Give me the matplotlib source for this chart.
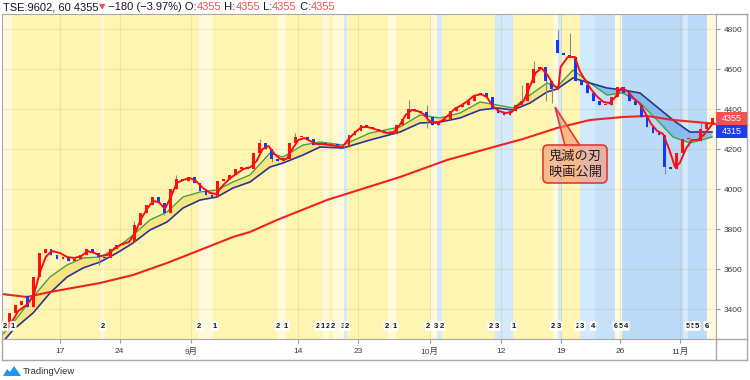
import numpy as np
import matplotlib
matplotlib.use('Agg')
import matplotlib.pyplot as plt
from matplotlib.patches import FancyBboxPatch, Polygon, Rectangle
from matplotlib.lines import Line2D
from matplotlib.transforms import Affine2D, blended_transform_factory

plt.rcParams['font.family'] = ['Liberation Sans', 'Noto Sans CJK JP', 'DejaVu Sans']

# x = trading day counted from 2020-08-11 (day 0), two bars per day
closes = [3320, 3380, 3420, 3440, 3410, 3560, 3680, 3700, 3670, 3650,
          3660, 3640, 3650, 3670, 3700, 3680, 3660, 3655, 3700, 3720,
          3730, 3735, 3820, 3880, 3920, 3960, 3930, 3880, 4000, 4050,
          4040, 4060, 4030, 3990, 3970, 3960, 4040, 4050, 4070, 4100,
          4110, 4100, 4180, 4230, 4200, 4150, 4140, 4150, 4230, 4260,
          4260, 4250, 4220, 4230, 4220, 4225, 4205, 4210, 4270, 4290,
          4320, 4310, 4300, 4290, 4280, 4275, 4320, 4350, 4400, 4390,
          4385, 4360, 4320, 4340, 4350, 4390, 4410, 4420, 4440, 4470,
          4480, 4460, 4400, 4380, 4370, 4390, 4420, 4440, 4530, 4600,
          4610, 4540, 4500, 4680, 4670, 4660, 4540, 4520, 4480, 4440,
          4420, 4420, 4460, 4510, 4480, 4440, 4420, 4360, 4310, 4280,
          4270, 4110, 4100, 4180, 4250, 4250, 4240, 4300, 4330, 4355]
gap_opens = {4: 3465, 93: 4745}
wick_high = {22: 3840, 29: 4070, 43: 4250, 49: 4280, 68: 4445, 71: 4420, 87: 4520,
             89: 4640, 93: 4795, 95: 4780, 117: 4330}
wick_low = {16: 3620, 27: 3870, 45: 4135, 71: 4305, 91: 4440, 92: 4430, 111: 4075,
            115: 4215}

ribbon_days = [-0.86, 0.06, 1.74, 3.16, 4.59, 5.93, 7.36, 8.78, 10.13, 11.55,
               12.98, 14.32, 15.75, 17.17, 18.51, 19.94, 21.62, 22.71, 24.39, 25.81,
               27.74, 30.01, 32.53, 34.2, 35.88, 37.56, 39.24, 40.66, 42.0, 43.43,
               44.86, 45.7, 47.04, 48.46, 49.89, 51.23, 52.66, 54.09, 55.43, 56.85,
               58.7]
green_ma = [3270, 3330, 3460, 3560, 3620, 3655, 3660, 3705, 3770, 3845,
            3885, 3960, 3985, 3995, 4035, 4070, 4180, 4160, 4220, 4235,
            4220, 4280, 4310, 4370, 4355, 4380, 4435, 4420, 4405, 4470,
            4530, 4510, 4595, 4530, 4470, 4480, 4430, 4345, 4260, 4230,
            4260]
navy_ma = [3230, 3295, 3380, 3480, 3560, 3605, 3635, 3680, 3730, 3795,
           3835, 3905, 3945, 3960, 4005, 4035, 4110, 4130, 4170, 4210,
           4205, 4245, 4285, 4330, 4335, 4355, 4395, 4405, 4395, 4430,
           4485, 4500, 4555, 4530, 4505, 4495, 4480, 4410, 4345, 4285,
           4285]

fast_days = [-0.3, 0.5, 1.2, 1.8, 2.3, 2.8, 3.3, 4.0, 4.6, 5.2,
             5.8, 6.3, 6.9, 7.4, 8.0, 8.6, 9.2, 9.8, 10.3, 10.8,
             11.3, 11.8, 12.3, 12.8, 13.3, 13.8, 14.3, 14.9, 15.4, 16.0,
             16.6, 17.1, 17.7, 18.3, 18.9, 19.4, 20.0, 20.5, 21.0, 21.5,
             22.0, 22.5, 23.0, 23.5, 24.0, 24.5, 25.0, 25.5, 26.0, 26.6,
             27.2, 27.7, 28.2, 28.8, 29.3, 29.8, 30.4, 30.9, 31.4, 32.0,
             32.5, 33.0, 33.5, 34.0, 34.5, 35.0, 35.5, 36.0, 36.6, 37.1,
             37.7, 38.2, 38.7, 39.3, 39.8, 40.3, 40.8, 41.4, 41.9, 42.4,
             42.9, 43.4, 43.9, 44.4, 44.9, 45.4, 45.8, 46.0, 46.6, 47.2,
             47.6, 48.1, 48.6, 49.1, 49.6, 50.1, 50.6, 51.1, 51.6, 52.1,
             52.6, 53.1, 53.6, 54.1, 54.6, 55.1, 55.6, 56.0, 56.5, 57.0,
             57.5, 58.0, 58.4, 58.8]
fast_ma = [3310, 3390, 3420, 3470, 3580, 3660, 3690, 3680, 3660, 3655,
           3665, 3690, 3680, 3665, 3670, 3705, 3725, 3735, 3780, 3850,
           3900, 3940, 3935, 3900, 3960, 4030, 4045, 4055, 4040, 4005,
           3980, 3975, 4020, 4055, 4080, 4100, 4110, 4140, 4200, 4215,
           4175, 4150, 4150, 4200, 4245, 4255, 4240, 4225, 4225, 4220,
           4215, 4210, 4250, 4285, 4310, 4310, 4300, 4290, 4280, 4285,
           4320, 4370, 4395, 4390, 4375, 4340, 4330, 4340, 4370, 4400,
           4420, 4440, 4465, 4475, 4460, 4415, 4390, 4380, 4385, 4415,
           4440, 4510, 4580, 4605, 4570, 4520, 4500, 4610, 4660, 4660,
           4590, 4540, 4495, 4460, 4435, 4430, 4460, 4505, 4490, 4455,
           4430, 4380, 4325, 4290, 4275, 4200, 4110, 4130, 4200, 4245,
           4245, 4270, 4300, 4330]

slow_days = [-0.86, 1.23, 3.16, 7.36, 10.13, 12.98, 15.75, 18.51, 19.94, 22.2,
             26.4, 32.53, 36.47, 40.07, 42.84, 45.7, 48.46, 51.23, 53.25, 55.43,
             58.28, 59.03]
slow_ma = [3475, 3460, 3485, 3530, 3570, 3630, 3695, 3760, 3785, 3845,
           3945, 4060, 4145, 4205, 4250, 4305, 4345, 4360, 4365, 4345,
           4330, 4325]

tick_days = [4, 9, 15, 24, 29, 35, 41, 46, 51, 56]
tick_labels = ['17', '24', '9月', '14', '23', '10月', '12', '19', '26', '11月']
price_ticks = [3400, 3600, 3800, 4000, 4200, 4400, 4600, 4800]

band_start = [-0.78, 7.45, 15.66, 22.29, 26.06, 26.9, 27.83, 31.52, 35.12, 35.63,
              40.49, 45.36, 45.78, 47.63, 48.88, 50.56, 51.15, 56.27, 56.69, 58.28]
band_end = [-0.03, 7.7, 16.84, 22.96, 26.57, 27.83, 28.08, 32.19, 35.63, 36.05,
            42.0, 45.78, 46.12, 48.88, 50.56, 51.15, 56.27, 56.69, 58.28, 59.1]
band_kind = ['cream', 'cream', 'cream', 'cream', 'cream', 'cream', 'sky', 'cream', 'cream', 'sky',
             'sky', 'cream', 'sky', 'sky', 'mid', 'cream', 'deep', 'sky', 'deep', 'cream']

marker_days = [-0.61, 0.06, 7.61, 15.66, 17.0, 22.29, 22.96, 25.65, 26.06, 26.48,
               26.9, 27.74, 28.08, 31.43, 32.11, 34.87, 35.54, 36.05, 40.16, 40.66,
               42.09, 45.36, 45.86, 47.46, 47.79, 48.72, 50.65, 51.07, 51.49, 56.69,
               57.11, 57.44, 58.28]
marker_labels = ['2', '1', '2', '2', '1', '2', '1', '2', '1', '2',
                 '2', '3', '2', '2', '1', '2', '3', '2', '2', '3',
                 '1', '2', '3', '2', '3', '4', '6', '5', '4', '5',
                 '5', '5', '6']

last_price = 4355
ma_label = 4315
release_day = 45.53
release_price = 4410

W, H = 750, 380
fig = plt.figure(figsize=(W / 100, H / 100), dpi=100)
fig.patch.set_facecolor('white')
pix = Affine2D().scale(1 / W, -1 / H).translate(0, 1) + fig.transFigure


def day_at(x):
    return (x - 12.3) / 11.92


ax = fig.add_axes([2 / W, 1 - 339 / H, 714 / W, 325 / H])
ax.set_xlim(day_at(2), day_at(716))
ax.set_ylim(3250, 4875)
ax.set_facecolor('#fff5b2')

band_colors = {'cream': '#fffadc', 'sky': '#d3e9fc', 'mid': '#c6e1f9', 'deep': '#bcdbf7'}
for s, e, k in zip(band_start, band_end, band_kind):
    ax.axvspan(s, e, color=band_colors[k], lw=0, zorder=0)

ax.set_axisbelow(True)
ax.grid(True, color='#b8a860', alpha=0.22, lw=0.8)

g = np.array(green_ma, float)
n = np.array(navy_ma, float)
ax.fill_between(ribbon_days, g, n, where=g >= n, interpolate=True,
                color='#f8e07a', alpha=0.85, lw=0, zorder=1)
ax.fill_between(ribbon_days, g, n, where=g < n, interpolate=True,
                color='#7fb7ea', alpha=0.85, lw=0, zorder=1)
ax.plot(ribbon_days, green_ma, color='#43a047', lw=1.0, zorder=2)
ax.plot(ribbon_days, navy_ma, color='#283593', lw=1.2, zorder=2)
ax.plot(slow_days, slow_ma, color='#f0231e', lw=1.5, zorder=2)

# candles
c = np.array(closes, float)
o = np.r_[c[0], c[:-1]]
for k, v in gap_opens.items():
    o[k] = v
t = -0.75 + 0.5 * np.arange(len(c))
hi = np.maximum(o, c)
lo = np.minimum(o, c)
for k, v in wick_high.items():
    hi[k] = v
for k, v in wick_low.items():
    lo[k] = v
ax.vlines(t, lo, hi, color='#8a8a8a', lw=0.8, zorder=3)
up = c >= o
body = c - o
body = np.where(np.abs(body) < 6, np.where(up, 6, -6), body)
ax.bar(t, body, bottom=o, width=0.24, color=np.where(up, '#ff1010', '#1038ff'),
       lw=0, zorder=3)

ax.plot(fast_days, fast_ma, color='#ff0d0d', lw=1.4, zorder=4)

# axes
ax.set_xticks(tick_days)
ax.set_xticklabels(tick_labels)
ax.yaxis.tick_right()
ax.set_yticks(price_ticks)
ax.tick_params(axis='both', labelsize=6, color='#9a9a9a', labelcolor='#3a3a3a',
               length=3, width=0.8)
ax.tick_params(axis='x', pad=3.5)
ax.tick_params(axis='y', pad=2.5)
for sp in ax.spines.values():
    sp.set_color('#a8a8a8')

trans = blended_transform_factory(ax.transData, ax.transAxes)
for d, s in zip(marker_days, marker_labels):
    ax.text(d, 0.04, s, transform=trans, ha='center', va='center', fontsize=5.5,
            fontweight='bold', color='#111111', zorder=6,
            bbox=dict(boxstyle='round,pad=0.18', fc='white', ec='none'))

# outer frame
for (x0, y0, x1, y1) in [(716, 14, 747, 14), (747, 14, 747, 360), (2, 360, 747, 360),
                         (2, 339, 2, 360), (716, 339, 747, 339), (716, 339, 716, 360)]:
    fig.add_artist(Line2D([x0, x1], [y0, y1], transform=pix, color='#a8a8a8', lw=1))

# callout
tip = ax.transData.transform((release_day, release_price))
tip_px = (tip[0], H - tip[1])
fig.add_artist(Polygon([tip_px, (565, 145.5), (580, 145.5)], closed=True, transform=pix,
                       fc=(0.965, 0.58, 0.44, 0.6), ec='#e53935', lw=1.2, zorder=5))
fig.add_artist(FancyBboxPatch((543, 145), 64, 38, boxstyle='round,pad=0,rounding_size=5',
                              transform=pix, fc=(0.965, 0.58, 0.44, 0.6), ec='#e53935',
                              lw=1.2, zorder=5))
fig.text(575 / W, 1 - 164.5 / H, '鬼滅の刃\n映画公開', ha='center', va='center',
         fontsize=9.5, family=['Noto Sans CJK JP'], color='#2a1a1a', linespacing=1.25,
         zorder=6)

# price labels on the scale
ly = H - ax.transData.transform((0, last_price))[1]
fig.add_artist(Rectangle((716, ly - 6.5), 31, 13, transform=pix, fc='#ef5350', ec='none', zorder=5))
fig.text(731.5 / W, 1 - ly / H, str(last_price), ha='center', va='center', fontsize=6.5,
         color='white', zorder=6)
by = ly + 13
fig.add_artist(Rectangle((716, by - 6.5), 31, 13, transform=pix, fc='#1f3df0', ec='none', zorder=5))
fig.text(731.5 / W, 1 - by / H, str(ma_label), ha='center', va='center', fontsize=6.5,
         color='white', zorder=6)

# header line
dark, red = '#131722', '#ef5350'
parts = [('TSE:9602, 60 4355', dark), ('▼', red), (' \u2212180 (\u22123.97%) O:', dark),
         ('4355', red), (' H:', dark), ('4355', red), (' L:', dark), ('4355', red),
         (' C:', dark), ('4355', red)]
renderer = fig.canvas.get_renderer()
x = 3
for s, col in parts:
    kw = {'family': ['DejaVu Sans']} if s == '▼' else {}
    txt = fig.text(x / W, 1 - 7 / H, s, color=col, fontsize=(6 if s == '▼' else 8),
                   ha='left', va='center', **kw)
    x += txt.get_window_extent(renderer).width

# TradingView mark
fig.add_artist(Polygon([(3, 376), (7, 369), (10, 372), (14, 366), (19, 373), (21, 376)],
                       closed=True, transform=pix, fc='#2196f3', ec='none'))
fig.text(23 / W, 1 - 371 / H, 'TradingView', ha='left', va='center', fontsize=6.8,
         color='#333333')

fig.savefig('out.png', dpi=100, facecolor='white')
